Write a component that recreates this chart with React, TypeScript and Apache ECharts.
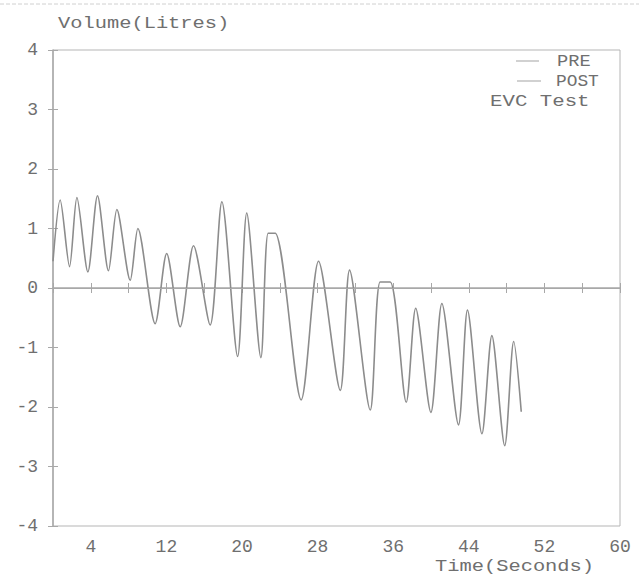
import React, { useEffect, useRef } from "react";
import * as echarts from "echarts";

// Time (s) of each turning point of the trace, and the volume (L) there
const TIME = [0, 0.76, 1.75, 2.53, 3.69, 4.71, 5.87, 6.76, 8.17, 8.98, 10.81, 12.03, 13.46, 14.87, 16.63, 17.87, 19.54, 20.5, 22.0, 22.77, 23.51, 26.26, 28.1, 30.4, 31.38, 33.57, 34.62, 35.68, 37.38, 38.38, 39.99, 41.15, 42.91, 43.86, 45.39, 46.44, 47.8, 48.75, 49.55];
const VOLUME = [0.45, 1.48, 0.36, 1.52, 0.27, 1.55, 0.29, 1.32, 0.13, 1.0, -0.6, 0.58, -0.65, 0.71, -0.62, 1.45, -1.15, 1.26, -1.17, 0.92, 0.92, -1.88, 0.45, -1.72, 0.3, -2.05, 0.1, 0.1, -1.92, -0.34, -2.09, -0.26, -2.3, -0.37, -2.45, -0.8, -2.65, -0.9, -2.08];
const SERIES_NAMES = ["PRE", "POST"];
const X_MIN = 0;
const X_MAX = 60;
const X_STEP = 4;
const Y_MIN = -4;
const Y_MAX = 4;
const Y_STEP = 1;
const Y_TITLE = "Volume(Litres)";
const X_TITLE = "Time(Seconds)";
const NOTE = "EVC Test";

const FONT = "'Liberation Mono', 'DejaVu Sans Mono', monospace";
const TEXT = "#6f6f6f";
const LINE = "#a8a8a8";
const TRACE = "#8c8c8c";
const KEY = "#b8b8b8";

export default function App() {
  const ref = useRef<HTMLDivElement>(null);
  useEffect(() => {
    if (!ref.current) return;
    const chart = echarts.init(ref.current, null, { renderer: "svg" });
    const data = TIME.map((t, i) => [t, VOLUME[i]]);
    const xLabel = (v: number) => (Math.round(v) % 8 === 4 ? String(v) : "");
    const label = (text: string, x: number, y: number, size: number, sx: number) => ({
      type: "text",
      x,
      y,
      scaleX: sx,
      style: { text, font: `${size}px ${FONT}`, fill: TEXT, verticalAlign: "middle", align: "left" },
    });
    chart.setOption({
      animation: false,
      backgroundColor: "#ffffff",
      grid: {
        left: 53,
        right: 19,
        top: 50,
        bottom: 50,
        show: true,
        borderColor: "#b5b5b5",
        borderWidth: 1,
      },
      xAxis: [
        {
          type: "value",
          min: X_MIN,
          max: X_MAX,
          interval: X_STEP,
          splitLine: { show: false },
          axisLine: { show: true, lineStyle: { color: LINE, width: 1.5 } },
          axisTick: { show: true, length: 5, lineStyle: { color: LINE } },
          axisLabel: {
            formatter: xLabel,
            fontFamily: FONT,
            fontSize: 18,
            color: TEXT,
            margin: 12,
            showMinLabel: true,
            showMaxLabel: true,
          },
        },
        {
          type: "value",
          min: X_MIN,
          max: X_MAX,
          interval: X_STEP,
          position: "bottom",
          splitLine: { show: false },
          axisLine: { show: false },
          axisTick: { show: true, inside: true, length: 5, lineStyle: { color: LINE } },
          axisLabel: { show: false },
        },
      ],
      yAxis: [
        {
          type: "value",
          min: Y_MIN,
          max: Y_MAX,
          interval: Y_STEP,
          splitLine: { show: false },
          axisLine: { show: true, lineStyle: { color: LINE, width: 1.5 } },
          axisTick: { show: true, length: 5, lineStyle: { color: LINE } },
          axisLabel: {
            fontFamily: FONT,
            fontSize: 18,
            color: TEXT,
            margin: 15,
          },
        },
        {
          type: "value",
          min: Y_MIN,
          max: Y_MAX,
          interval: Y_STEP,
          position: "left",
          offset: 0,
          splitLine: { show: false },
          axisLine: { show: false },
          axisTick: { show: true, inside: true, length: 5, lineStyle: { color: LINE } },
          axisLabel: { show: false },
        },
      ],
      series: [
        {
          name: SERIES_NAMES[0],
          type: "line",
          data,
          xAxisIndex: 0,
          yAxisIndex: 0,
          smooth: 0.28,
          symbol: "none",
          lineStyle: { color: TRACE, width: 1.6 },
          itemStyle: { color: TRACE },
          markLine: {
            silent: true,
            symbol: "none",
            label: { show: false },
            lineStyle: { color: LINE, type: "solid", width: 1.2 },
            data: [{ yAxis: 0 }],
          },
        },
      ],
      graphic: [
        {
          type: "line",
          shape: { x1: 0, y1: 4, x2: 639, y2: 4 },
          style: { stroke: "#d0d0d0", lineWidth: 1, lineDash: [4, 2] },
        },
        label(Y_TITLE, 58, 23, 17, 1.2),
        label(X_TITLE, 435, 566, 17, 1.2),
        { type: "line", shape: { x1: 516, y1: 61, x2: 539, y2: 61 }, style: { stroke: KEY, lineWidth: 1.3 } },
        label(SERIES_NAMES[0], 557, 61, 17, 1.1),
        { type: "line", shape: { x1: 517, y1: 81, x2: 541, y2: 81 }, style: { stroke: KEY, lineWidth: 1.3 } },
        label(SERIES_NAMES[1], 556, 81, 17, 1.05),
        label(NOTE, 490, 102, 17, 1.22),
      ],
    });
    return () => chart.dispose();
  }, []);
  return (
    <div
      ref={ref}
      style={{ position: "fixed", left: 0, top: 0, width: 639, height: 576 }}
    />
  );
}
